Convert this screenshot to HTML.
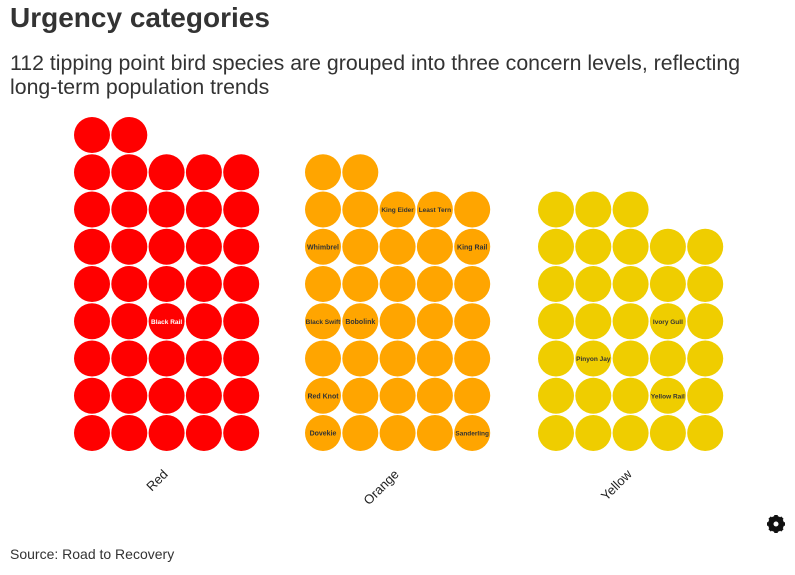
<!DOCTYPE html>
<html><head><meta charset="utf-8"><style>
body{margin:0;width:795px;height:575px;background:#fff;font-family:"Liberation Sans",sans-serif;overflow:hidden;position:relative}
h1{position:absolute;left:10px;top:2px;margin:0;font-size:28px;font-weight:bold;color:#333}
.sub{position:absolute;left:10px;top:51px;font-size:21.3px;line-height:24px;color:#333;width:780px}
.src{position:absolute;left:10px;top:546px;font-size:14px;color:#333}
svg{position:absolute;left:0;top:0}
</style></head><body>
<h1>Urgency categories</h1>
<div class="sub">112 tipping point bird species are grouped into three concern levels, reflecting<br><span style="white-space:nowrap">long-term</span> population trends</div>
<div class="src">Source: Road to Recovery</div>
<svg id="chart" width="795" height="575"></svg>
<svg width="20" height="20" style="left:766px;top:514px" viewBox="0 0 20 20">
<circle cx="10" cy="10" r="6" fill="none" stroke="#111" stroke-width="4"/>
<g stroke="#111" stroke-width="3.5"><line x1="10" y1="1" x2="10" y2="19"/><line x1="1" y1="10" x2="19" y2="10"/><line x1="3.6" y1="3.6" x2="16.4" y2="16.4"/><line x1="16.4" y1="3.6" x2="3.6" y2="16.4"/></g>
<circle cx="10" cy="10" r="2.5" fill="#fff"/></svg>
<script>
const categories=["Red","Orange","Yellow"];
const counts=[42,37,33];
const colors=["#ff0000","#ffa500","#efcd00"];
const labelGroups=[0,1,1,1,1,1,1,1,1,1,2,2,2];
const labelRows=[3,6,6,5,5,3,3,1,0,0,3,2,1];
const labelCols=[2,2,3,0,4,0,1,0,0,4,3,1,3];
const labelNames=["Black Rail","King Eider","Least Tern","Whimbrel","King Rail","Black Swift","Bobolink","Red Knot","Dovekie","Sanderling","Ivory Gull","Pinyon Jay","Yellow Rail"];
const NS="http://www.w3.org/2000/svg";
const svg=document.getElementById('chart');
const groupX=[92,323,556], colStep=37.3, rowStep=37.25, baseY=433, R=18, perRow=5;
function cx(g,c){return groupX[g]+c*colStep}
function cy(r){return baseY-r*rowStep}
categories.forEach((cat,g)=>{
  const n=counts[g];
  for(let i=0;i<n;i++){
    const r=Math.floor(i/perRow), c=i%perRow;
    const e=document.createElementNS(NS,'circle');
    e.setAttribute('cx',cx(g,c));e.setAttribute('cy',cy(r));e.setAttribute('r',R);e.setAttribute('fill',colors[g]);
    
    
    svg.appendChild(e);
  }
  const t=document.createElementNS(NS,'text');
  const x=cx(g,2)+2, y=baseY+42;
  t.setAttribute('x',x);t.setAttribute('y',y);t.setAttribute('text-anchor','end');
  t.setAttribute('transform','rotate(-45 '+x+' '+y+')');
  t.setAttribute('font-size','13');t.setAttribute('fill','#222');
  t.textContent=cat;
  
  
  svg.appendChild(t);
});
labelNames.forEach((nm,i)=>{
  const t=document.createElementNS(NS,'text');
  t.setAttribute('x',cx(labelGroups[i],labelCols[i]));t.setAttribute('y',cy(labelRows[i])+2.5);
  t.setAttribute('text-anchor','middle');t.setAttribute('font-size',nm.length>9?'6.5':'7');
  t.setAttribute('font-weight','bold');
  t.setAttribute('fill',labelGroups[i]==0?'#fff':'#333');
  t.textContent=nm;
  
  
  svg.appendChild(t);
});
</script>
</body></html>
